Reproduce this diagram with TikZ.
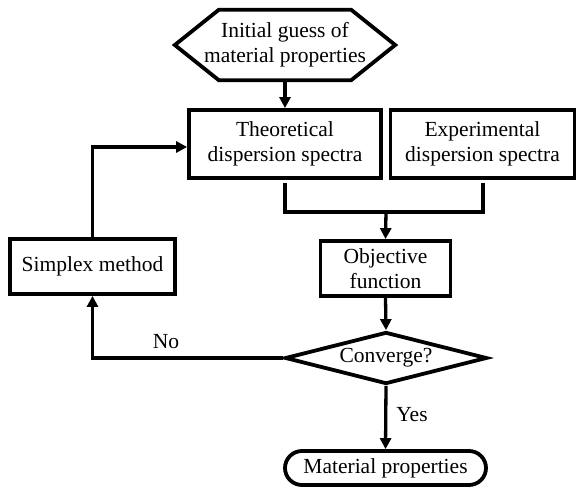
\documentclass[tikz,border=0pt]{standalone}
\usepackage{fontspec}
\setmainfont{Liberation Serif}
\usetikzlibrary{arrows.meta,shapes.geometric,calc}
\begin{document}
\begin{tikzpicture}[x=1pt,y=-1pt,
  font=\fontsize{21.5}{25}\selectfont,
  box/.style={draw,line width=3.8pt,align=center,inner sep=0pt},
  conn/.style={line width=3.3pt},
  arr/.style={conn,-{Triangle[length=11pt,width=11pt]}},
  lbl/.style={inner sep=0pt}]
\useasboundingbox (0,0) rectangle (576,490);
% start hexagon
\node[align=center,inner sep=0pt,minimum width=220pt,minimum height=70pt] (init) at (285,45) {Initial guess of\\material properties};
\draw[line width=3.8pt,line join=miter]
  (init.west) -- ($(init.north west)+(44pt,0)$) -- ($(init.north east)+(-44pt,0)$) -- (init.east)
  -- ($(init.south east)+(-44pt,0)$) -- ($(init.south west)+(44pt,0)$) -- cycle;
\node[box,minimum width=192pt,minimum height=68pt] (theo) at (285,144) {Theoretical\\dispersion spectra};
\node[box,minimum width=184pt,minimum height=68pt] (exp) at (482.5,144) {Experimental\\dispersion spectra};
\coordinate (merge) at (386,212);
\node[box,minimum width=130pt,minimum height=55pt] (obj) at (385.5,268.5) {Objective\\function};
\node[box,minimum width=165pt,minimum height=55pt] (sim) at (92.5,266.5) {Simplex method};
\node[draw,line width=3.8pt,diamond,aspect=3.9,minimum width=202pt,minimum height=52pt,inner sep=0pt] (conv) at (386,358) {Converge?};
\node[draw,line width=3.8pt,rounded corners=17pt,minimum width=201pt,minimum height=34pt,inner sep=0pt] (mat) at (385.5,468) {Material properties};
% connectors
\draw[arr] (init.south) -- (theo.north);
\draw[conn] ([yshift=-3pt]theo.south) |- (merge) -| ([xshift=0.5pt,yshift=-3pt]exp.south);
\draw[arr] (merge) -- (obj.north);
\draw[arr] (obj.south) -- (conv.north);
\draw[arr] (conv.west) -| (sim.south);
\draw[arr] (sim.north) |- ([yshift=-3pt]theo.west);
\draw[arr] (conv.south) -- (mat.north);
\node[lbl] (no) at (166,342) {No};
\node[lbl] (yes) at (412,415) {Yes};
\end{tikzpicture}
\end{document}
